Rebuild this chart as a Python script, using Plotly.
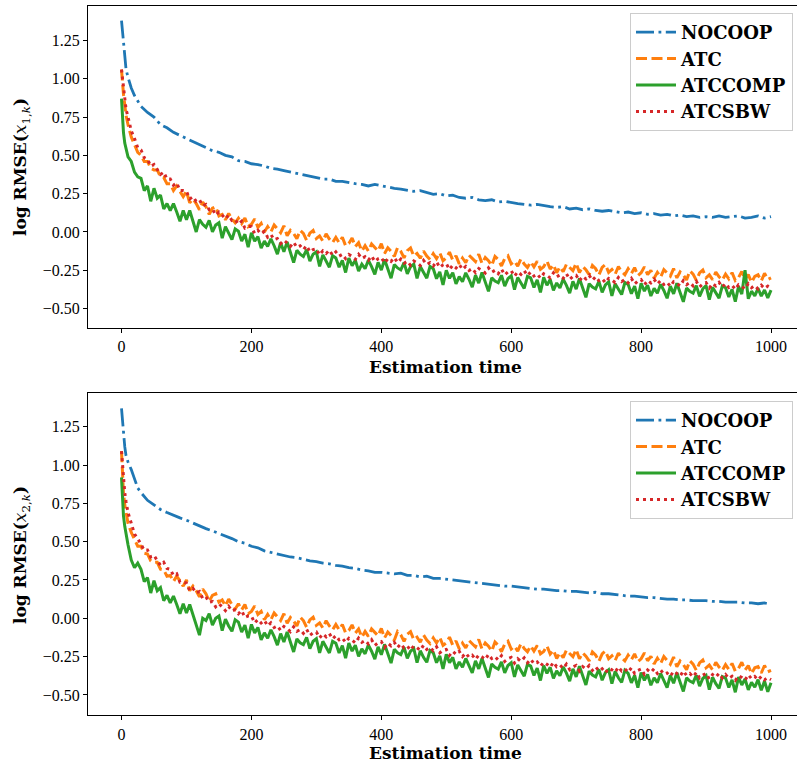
import plotly.graph_objects as go

# time steps: blue curves sampled every 10 steps, noisy curves every 5 steps
K_EARLY = [0, 1, 2, 3, 5, 7, 10, 15, 20, 25]
KB = K_EARLY + list(range(30, 1001, 10))
KN = K_EARLY + list(range(30, 1001, 5))

NOCOOP_1 = [1.38, 1.33, 1.27, 1.21, 1.12, 1.06, 1.01, 0.94, 0.89, 0.85,
            0.82, 0.78, 0.75, 0.70, 0.68, 0.65, 0.63, 0.61, 0.585, 0.565,
            0.545, 0.53, 0.52, 0.50, 0.49, 0.465, 0.46, 0.445, 0.44, 0.43,
            0.415, 0.41, 0.40, 0.39, 0.385, 0.37, 0.365, 0.355, 0.345, 0.345,
            0.33, 0.33, 0.32, 0.315, 0.31, 0.30, 0.31, 0.30, 0.29, 0.285,
            0.28, 0.27, 0.265, 0.27, 0.255, 0.245, 0.25, 0.235, 0.24, 0.225,
            0.22, 0.225, 0.21, 0.205, 0.21, 0.195, 0.20, 0.19, 0.185, 0.18,
            0.175, 0.18, 0.17, 0.165, 0.16, 0.165, 0.15, 0.155, 0.145, 0.15,
            0.14, 0.135, 0.14, 0.13, 0.125, 0.13, 0.12, 0.125, 0.115, 0.12,
            0.11, 0.115, 0.105, 0.11, 0.10, 0.105, 0.095, 0.10, 0.095, 0.105,
            0.095, 0.10, 0.105, 0.09, 0.095, 0.105, 0.09, 0.10]
ATC_1 = [1.06, 1.00, 0.95, 0.90, 0.83, 0.76, 0.70, 0.62, 0.57, 0.52,
         0.50, 0.46, 0.46, 0.415, 0.405, 0.405, 0.36, 0.355, 0.315, 0.315,
         0.27, 0.30, 0.265, 0.23, 0.265, 0.19, 0.215, 0.185, 0.145, 0.195,
         0.165, 0.115, 0.155, 0.165, 0.105, 0.115, 0.08, 0.12, 0.085, 0.06,
         0.09, 0.055, 0.09, 0.035, 0.05, 0.085, 0.03, 0.055, 0.00, 0.035,
         0.00, 0.045, 0.02, -0.005, 0.04, -0.025, 0.01, -0.01, -0.045, 0.01,
         -0.01, -0.055, -0.008, 0.01, -0.043, -0.026, -0.06, -0.013, -0.046, -0.07,
         -0.035, -0.07, -0.035, -0.09, -0.075, -0.04, -0.095, -0.07, -0.125, -0.09,
         -0.125, -0.078, -0.101, -0.124, -0.077, -0.14, -0.103, -0.126, -0.16, -0.103,
         -0.126, -0.169, -0.122, -0.105, -0.158, -0.14, -0.172, -0.125, -0.157, -0.18,
         -0.142, -0.174, -0.136, -0.188, -0.17, -0.132, -0.184, -0.156, -0.208, -0.17,
         -0.201, -0.152, -0.173, -0.194, -0.145, -0.206, -0.167, -0.188, -0.219, -0.16,
         -0.18, -0.222, -0.174, -0.156, -0.208, -0.19, -0.223, -0.176, -0.209, -0.232,
         -0.195, -0.228, -0.191, -0.244, -0.227, -0.19, -0.242, -0.214, -0.266, -0.228,
         -0.26, -0.211, -0.232, -0.253, -0.204, -0.265, -0.226, -0.247, -0.278, -0.219,
         -0.24, -0.281, -0.232, -0.213, -0.264, -0.245, -0.276, -0.227, -0.258, -0.279,
         -0.24, -0.272, -0.233, -0.285, -0.266, -0.228, -0.279, -0.251, -0.302, -0.264,
         -0.295, -0.246, -0.267, -0.288, -0.239, -0.30, -0.261, -0.282, -0.313, -0.254,
         -0.275, -0.316, -0.267, -0.248, -0.299, -0.28, -0.311, -0.262, -0.293, -0.314,
         -0.275, -0.306, -0.266, -0.317, -0.297, -0.258, -0.308, -0.279, -0.329, -0.29,
         -0.28, -0.32, -0.27, -0.31, -0.30]
ATCCOMP_1 = [0.87, 0.78, 0.70, 0.65, 0.58, 0.55, 0.49, 0.46, 0.39, 0.36,
             0.35, 0.27, 0.30, 0.20, 0.285, 0.22, 0.24, 0.15, 0.185, 0.14,
             0.185, 0.13, 0.07, 0.14, 0.08, 0.14, 0.07, 0.00, 0.08, 0.05,
             0.03, 0.075, 0.00, 0.045, 0.06, -0.04, 0.035, -0.01, -0.05, 0.02,
             0.005, -0.06, -0.015, -0.10, -0.005, -0.06, -0.03, -0.105, -0.06, -0.095,
             -0.045, -0.09, -0.145, -0.07, -0.13, -0.065, -0.135, -0.20, -0.12, -0.145,
             -0.16, -0.115, -0.19, -0.145, -0.13, -0.225, -0.15, -0.195, -0.23, -0.155,
             -0.17, -0.23, -0.185, -0.265, -0.17, -0.22, -0.185, -0.255, -0.21, -0.24,
             -0.185, -0.226, -0.277, -0.198, -0.249, -0.18, -0.241, -0.302, -0.213, -0.235,
             -0.248, -0.201, -0.274, -0.227, -0.21, -0.303, -0.226, -0.269, -0.302, -0.225,
             -0.24, -0.305, -0.26, -0.345, -0.25, -0.303, -0.266, -0.339, -0.292, -0.325,
             -0.267, -0.309, -0.36, -0.282, -0.334, -0.265, -0.327, -0.388, -0.30, -0.321,
             -0.332, -0.283, -0.354, -0.305, -0.286, -0.377, -0.298, -0.338, -0.369, -0.29,
             -0.30, -0.362, -0.313, -0.395, -0.297, -0.348, -0.31, -0.381, -0.333, -0.365,
             -0.308, -0.349, -0.40, -0.322, -0.373, -0.304, -0.366, -0.427, -0.338, -0.36,
             -0.372, -0.323, -0.394, -0.345, -0.326, -0.417, -0.338, -0.378, -0.409, -0.33,
             -0.342, -0.403, -0.354, -0.435, -0.336, -0.386, -0.347, -0.418, -0.369, -0.40,
             -0.342, -0.382, -0.433, -0.354, -0.404, -0.335, -0.396, -0.456, -0.367, -0.388,
             -0.40, -0.35, -0.42, -0.371, -0.351, -0.442, -0.362, -0.402, -0.432, -0.353,
             -0.364, -0.424, -0.375, -0.455, -0.355, -0.406, -0.25, -0.436, -0.387, -0.417,
             -0.368, -0.419, -0.379, -0.43, -0.38]
ATCSBW_1 = [1.06, 1.02, 0.97, 0.93, 0.86, 0.80, 0.75, 0.66, 0.61, 0.55,
            0.535, 0.485, 0.475, 0.43, 0.44, 0.41, 0.375, 0.39, 0.345, 0.345,
            0.305, 0.32, 0.27, 0.27, 0.265, 0.215, 0.23, 0.20, 0.21, 0.17,
            0.18, 0.145, 0.15, 0.11, 0.13, 0.11, 0.085, 0.11, 0.075, 0.08,
            0.05, 0.07, 0.025, 0.035, 0.035, -0.01, 0.01, -0.013, 0.004, -0.034,
            -0.017, -0.05, -0.043, -0.076, -0.054, -0.072, -0.095, -0.068, -0.10, -0.09,
            -0.115, -0.09, -0.13, -0.115, -0.11, -0.15, -0.123, -0.141, -0.119, -0.152,
            -0.13, -0.158, -0.146, -0.174, -0.147, -0.16, -0.178, -0.146, -0.174, -0.162,
            -0.185, -0.157, -0.193, -0.175, -0.167, -0.203, -0.175, -0.192, -0.168, -0.20,
            -0.177, -0.204, -0.191, -0.218, -0.19, -0.202, -0.219, -0.186, -0.213, -0.20,
            -0.222, -0.195, -0.232, -0.215, -0.207, -0.245, -0.217, -0.235, -0.212, -0.245,
            -0.225, -0.252, -0.239, -0.266, -0.239, -0.251, -0.268, -0.235, -0.263, -0.25,
            -0.272, -0.243, -0.28, -0.261, -0.253, -0.289, -0.26, -0.277, -0.253, -0.285,
            -0.262, -0.288, -0.275, -0.301, -0.273, -0.284, -0.30, -0.267, -0.293, -0.28,
            -0.302, -0.273, -0.31, -0.291, -0.283, -0.319, -0.29, -0.307, -0.283, -0.315,
            -0.292, -0.318, -0.305, -0.331, -0.303, -0.314, -0.33, -0.297, -0.323, -0.31,
            -0.332, -0.303, -0.339, -0.32, -0.311, -0.346, -0.317, -0.333, -0.309, -0.34,
            -0.317, -0.343, -0.329, -0.355, -0.325, -0.336, -0.352, -0.318, -0.344, -0.33,
            -0.352, -0.323, -0.359, -0.34, -0.331, -0.366, -0.337, -0.353, -0.329, -0.36,
            -0.337, -0.363, -0.349, -0.375, -0.345, -0.356, -0.372, -0.338, -0.364, -0.35,
            -0.372, -0.348, -0.369, -0.354, -0.375]

NOCOOP_2 = [1.37, 1.32, 1.26, 1.20, 1.12, 1.06, 1.02, 0.97, 0.91, 0.85,
            0.82, 0.77, 0.74, 0.71, 0.69, 0.67, 0.655, 0.64, 0.62, 0.60,
            0.585, 0.57, 0.555, 0.54, 0.52, 0.50, 0.49, 0.47, 0.46, 0.44,
            0.43, 0.42, 0.41, 0.40, 0.395, 0.385, 0.375, 0.37, 0.36, 0.355,
            0.345, 0.34, 0.33, 0.325, 0.315, 0.31, 0.30, 0.30, 0.295, 0.29,
            0.295, 0.28, 0.28, 0.27, 0.275, 0.26, 0.26, 0.255, 0.25, 0.245,
            0.24, 0.235, 0.23, 0.225, 0.22, 0.215, 0.21, 0.21, 0.205, 0.20,
            0.195, 0.19, 0.19, 0.185, 0.18, 0.18, 0.175, 0.175, 0.17, 0.165,
            0.17, 0.16, 0.16, 0.155, 0.15, 0.145, 0.145, 0.14, 0.135, 0.135,
            0.13, 0.125, 0.125, 0.12, 0.12, 0.115, 0.115, 0.115, 0.11, 0.11,
            0.105, 0.105, 0.105, 0.10, 0.10, 0.095, 0.10, 0.09]
ATC_2 = [1.09, 0.98, 0.88, 0.82, 0.74, 0.68, 0.62, 0.56, 0.52, 0.47,
         0.47, 0.425, 0.42, 0.375, 0.365, 0.365, 0.32, 0.315, 0.275, 0.28,
         0.24, 0.275, 0.245, 0.21, 0.25, 0.18, 0.21, 0.18, 0.14, 0.19,
         0.16, 0.11, 0.15, 0.16, 0.105, 0.12, 0.08, 0.125, 0.09, 0.06,
         0.095, 0.055, 0.09, 0.03, 0.045, 0.08, 0.025, 0.045, -0.01, 0.025,
         -0.01, 0.035, 0.01, -0.015, 0.03, -0.032, 0.005, -0.018, -0.05, 0.008,
         -0.015, -0.058, -0.01, 0.007, -0.046, -0.03, -0.063, -0.016, -0.05, -0.075,
         -0.04, -0.075, -0.04, -0.095, -0.08, -0.043, -0.096, -0.07, -0.123, -0.086,
         -0.118, -0.07, -0.092, -0.114, -0.066, -0.128, -0.09, -0.112, -0.144, -0.086,
         -0.108, -0.151, -0.104, -0.087, -0.14, -0.123, -0.156, -0.109, -0.142, -0.165,
         -0.128, -0.161, -0.124, -0.177, -0.16, -0.123, -0.176, -0.148, -0.20, -0.162,
         -0.194, -0.145, -0.166, -0.187, -0.138, -0.20, -0.161, -0.182, -0.214, -0.155,
         -0.177, -0.218, -0.169, -0.15, -0.201, -0.182, -0.214, -0.165, -0.197, -0.218,
         -0.18, -0.214, -0.178, -0.232, -0.216, -0.18, -0.234, -0.208, -0.262, -0.225,
         -0.257, -0.208, -0.23, -0.251, -0.203, -0.264, -0.225, -0.247, -0.278, -0.22,
         -0.24, -0.281, -0.232, -0.213, -0.264, -0.245, -0.276, -0.227, -0.257, -0.278,
         -0.24, -0.271, -0.232, -0.283, -0.264, -0.226, -0.277, -0.248, -0.298, -0.26,
         -0.295, -0.25, -0.275, -0.30, -0.253, -0.316, -0.279, -0.302, -0.335, -0.277,
         -0.299, -0.34, -0.291, -0.272, -0.323, -0.305, -0.336, -0.287, -0.318, -0.34,
         -0.302, -0.333, -0.294, -0.345, -0.326, -0.287, -0.338, -0.309, -0.361, -0.323,
         -0.315, -0.357, -0.308, -0.349, -0.34]
ATCCOMP_2 = [0.92, 0.82, 0.74, 0.67, 0.60, 0.55, 0.48, 0.38, 0.33, 0.36,
             0.32, 0.24, 0.265, 0.165, 0.245, 0.18, 0.20, 0.115, 0.15, 0.10,
             0.145, 0.09, 0.03, 0.095, 0.035, 0.09, 0.02, -0.05, -0.11, 0.00,
             -0.015, 0.03, -0.045, 0.00, 0.015, -0.08, -0.005, -0.05, -0.085, -0.01,
             -0.025, -0.09, -0.045, -0.13, -0.04, -0.095, -0.06, -0.14, -0.095, -0.13,
             -0.075, -0.12, -0.175, -0.10, -0.155, -0.09, -0.155, -0.22, -0.135, -0.16,
             -0.172, -0.125, -0.198, -0.15, -0.133, -0.226, -0.15, -0.193, -0.226, -0.15,
             -0.163, -0.226, -0.179, -0.26, -0.162, -0.214, -0.176, -0.248, -0.20, -0.232,
             -0.174, -0.215, -0.266, -0.187, -0.238, -0.17, -0.231, -0.292, -0.203, -0.225,
             -0.237, -0.19, -0.262, -0.215, -0.197, -0.29, -0.212, -0.255, -0.287, -0.21,
             -0.225, -0.29, -0.245, -0.33, -0.235, -0.29, -0.255, -0.33, -0.285, -0.32,
             -0.262, -0.304, -0.356, -0.278, -0.33, -0.262, -0.324, -0.386, -0.298, -0.32,
             -0.332, -0.284, -0.356, -0.308, -0.29, -0.382, -0.304, -0.346, -0.378, -0.30,
             -0.312, -0.373, -0.325, -0.406, -0.308, -0.359, -0.32, -0.392, -0.343, -0.375,
             -0.317, -0.358, -0.41, -0.33, -0.382, -0.313, -0.375, -0.435, -0.345, -0.37,
             -0.382, -0.333, -0.404, -0.355, -0.336, -0.427, -0.347, -0.388, -0.418, -0.34,
             -0.36, -0.421, -0.372, -0.453, -0.354, -0.405, -0.366, -0.437, -0.388, -0.42,
             -0.36, -0.401, -0.452, -0.373, -0.424, -0.355, -0.416, -0.477, -0.389, -0.41,
             -0.42, -0.371, -0.442, -0.393, -0.374, -0.465, -0.385, -0.427, -0.457, -0.38,
             -0.39, -0.451, -0.402, -0.483, -0.384, -0.435, -0.396, -0.467, -0.418, -0.45,
             -0.40, -0.47, -0.41, -0.48, -0.42]
ATCSBW_2 = [1.09, 1.02, 0.95, 0.90, 0.82, 0.76, 0.69, 0.62, 0.55, 0.52,
            0.485, 0.445, 0.445, 0.40, 0.41, 0.38, 0.345, 0.365, 0.325, 0.32,
            0.28, 0.29, 0.235, 0.235, 0.23, 0.18, 0.195, 0.165, 0.175, 0.13,
            0.14, 0.105, 0.11, 0.075, 0.095, 0.075, 0.05, 0.078, 0.047, 0.056,
            0.03, 0.05, 0.005, 0.015, 0.015, -0.03, -0.008, -0.031, -0.014, -0.05,
            -0.03, -0.06, -0.05, -0.08, -0.054, -0.068, -0.087, -0.056, -0.085, -0.074,
            -0.098, -0.072, -0.111, -0.095, -0.089, -0.128, -0.102, -0.121, -0.10, -0.134,
            -0.113, -0.141, -0.129, -0.157, -0.13, -0.143, -0.161, -0.129, -0.157, -0.145,
            -0.167, -0.14, -0.177, -0.16, -0.152, -0.19, -0.162, -0.18, -0.157, -0.19,
            -0.167, -0.194, -0.181, -0.208, -0.18, -0.192, -0.209, -0.176, -0.203, -0.19,
            -0.212, -0.186, -0.225, -0.209, -0.203, -0.242, -0.216, -0.235, -0.215, -0.25,
            -0.227, -0.254, -0.241, -0.268, -0.24, -0.252, -0.269, -0.236, -0.263, -0.25,
            -0.272, -0.244, -0.281, -0.263, -0.255, -0.292, -0.264, -0.281, -0.258, -0.29,
            -0.267, -0.296, -0.285, -0.313, -0.287, -0.30, -0.319, -0.287, -0.316, -0.305,
            -0.327, -0.299, -0.335, -0.317, -0.308, -0.344, -0.315, -0.331, -0.308, -0.34,
            -0.317, -0.343, -0.329, -0.355, -0.326, -0.336, -0.352, -0.318, -0.344, -0.33,
            -0.352, -0.323, -0.359, -0.34, -0.331, -0.366, -0.337, -0.353, -0.329, -0.36,
            -0.337, -0.364, -0.357, -0.378, -0.346, -0.36, -0.377, -0.344, -0.373, -0.36,
            -0.382, -0.353, -0.389, -0.371, -0.36, -0.396, -0.367, -0.383, -0.359, -0.39,
            -0.367, -0.393, -0.379, -0.405, -0.376, -0.386, -0.403, -0.369, -0.394, -0.38,
            -0.402, -0.379, -0.401, -0.388, -0.40]

NAMES = ["NOCOOP", "ATC", "ATCCOMP", "ATCSBW"]
COLORS = ["#1f77b4", "#ff7f0e", "#2ca02c", "#d62728"]
WIDTHS = [2.8, 3.0, 3.0, 3.0]
DASHES = ["18px,4.5px,2.8px,4.5px", "11px,4.5px", "solid", "3px,4px"]
PANELS = [[NOCOOP_1, ATC_1, ATCCOMP_1, ATCSBW_1], [NOCOOP_2, ATC_2, ATCCOMP_2, ATCSBW_2]]
XS = [KB, KN, KN, KN]

for p in PANELS:
    for xs, s in zip(XS, p):
        assert len(s) == len(xs), (len(s), len(xs))

W, H = 797, 767
SERIF = "Liberation Serif"
BOLDSERIF = "DejaVu Serif"

fig = go.Figure()
for pi, series in enumerate(PANELS):
    xa = "x" if pi == 0 else "x2"
    ya = "y" if pi == 0 else "y2"
    for name, col, wd, dash, xs, vals in zip(NAMES, COLORS, WIDTHS, DASHES, XS, series):
        fig.add_trace(go.Scatter(
            x=xs, y=vals, mode="lines", name="<b>%s</b>" % name,
            line=dict(color=col, width=wd, dash=dash),
            xaxis=xa, yaxis=ya, legend="legend" if pi == 0 else "legend2",
            showlegend=True))


def px_x(px):
    return px / W


def px_y(py):
    return 1 - py / H


axis_common = dict(
    showline=True, linecolor="black", linewidth=1.2, ticks="outside",
    ticklen=4, tickwidth=1.2, tickcolor="black", showgrid=False, zeroline=False,
    tickfont=dict(family=SERIF, size=16, color="black"),
)
XTICKS = [0, 200, 400, 600, 800, 1000]
YTICKS = [-0.5, -0.25, 0, 0.25, 0.5, 0.75, 1.0, 1.25]

x_dom = [px_x(88), 1.0]
leg_common = dict(xanchor="right", yanchor="top", bgcolor="rgba(255,255,255,0.8)",
                  bordercolor="#cccccc", borderwidth=1, itemwidth=40,
                  font=dict(family=BOLDSERIF, size=18, color="black"), tracegroupgap=0)
fig.update_layout(
    width=W, height=H, margin=dict(l=0, r=0, t=0, b=0),
    plot_bgcolor="white", paper_bgcolor="white",
    xaxis=dict(domain=x_dom, range=[-51.6, 1040], tickvals=XTICKS,
               mirror=True, anchor="y", **axis_common),
    yaxis=dict(domain=[px_y(328), px_y(5.5)], range=[-0.627, 1.478],
               tickvals=YTICKS, tickformat=".2f", anchor="x", **axis_common),
    xaxis2=dict(domain=x_dom, range=[-51.6, 1040], tickvals=XTICKS,
                mirror=True, anchor="y2", **axis_common),
    yaxis2=dict(domain=[px_y(715.3), px_y(392.7)], range=[-0.633, 1.472],
                tickvals=YTICKS, tickformat=".2f", anchor="x2", **axis_common),
    legend=dict(x=px_x(793), y=px_y(13), **leg_common),
    legend2=dict(x=px_x(793), y=px_y(401), **leg_common),
)

title_font = dict(family=BOLDSERIF, size=17, color="black")
for (xc, yc) in [(446, 367), (446, 753)]:
    fig.add_annotation(x=px_x(xc), y=px_y(yc), xref="paper", yref="paper",
                       text="<b>Estimation time</b>", showarrow=False, font=title_font,
                       xanchor="center", yanchor="middle")
for (xc, yc, idx) in [(21, 167, "1"), (21, 555, "2")]:
    fig.add_annotation(x=px_x(xc), y=px_y(yc), xref="paper", yref="paper",
                       text="<b>log RMSE(</b><i>x</i><sub>%s,<i>k</i></sub><b>)</b>" % idx,
                       textangle=-90, showarrow=False,
                       font=dict(family=BOLDSERIF, size=17, color="black"),
                       xanchor="center", yanchor="middle")

fig.write_html("out.html")
